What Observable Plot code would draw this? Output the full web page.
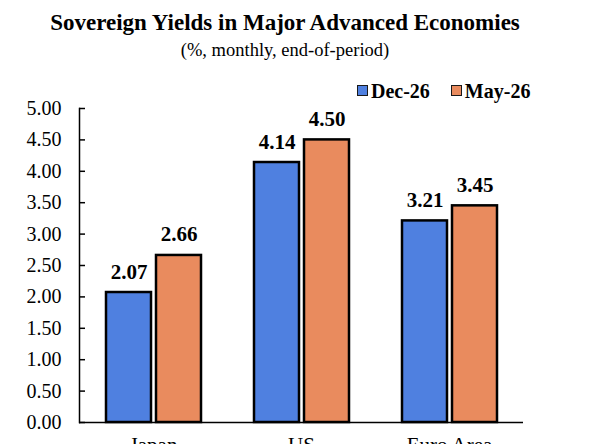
<!DOCTYPE html>
<html>
<head>
<meta charset="utf-8">
<script src="https://cdn.jsdelivr.net/npm/d3@7"></script>
<script src="https://cdn.jsdelivr.net/npm/@observablehq/plot@0.6"></script>
<style>
  html, body { margin: 0; padding: 0; background: #fff; overflow: hidden; }
  body { width: 590px; height: 444px; font-family: "Liberation Serif", "Times New Roman", serif; color: #000; }
  #header { position: relative; width: 590px; height: 80px; }
  .line { position: absolute; left: 0; width: 570px; text-align: center; line-height: 1; white-space: nowrap; }
  #title { top: 11px; font-size: 23px; font-weight: bold; }
  #subtitle { top: 41px; font-size: 18.5px; }
  #legend { position: absolute; left: 357px; top: 79px; font-size: 20px; font-weight: bold; line-height: 1; white-space: nowrap; z-index: 1; }
  .item { display: inline-flex; align-items: center; margin-right: 21px; }
  .swatch { display: inline-block; width: 9px; height: 9px; border: 1.5px solid #1a1a1a; margin-right: 3px; }
  #chart svg { display: block; }
</style>
</head>
<body>
<div id="header">
  <div id="title" class="line">Sovereign Yields in Major Advanced Economies</div>
  <div id="subtitle" class="line">(%, monthly, end-of-period)</div>
  <div id="legend"></div>
</div>
<div id="chart"></div>
<script>
// Sovereign 10-year yields, end of month (%)
const countries = ["Japan", "US", "Euro Area"];
const periods = ["Dec-26", "May-26"];
const dec26 = [2.07, 4.14, 3.21];
const may26 = [2.66, 4.50, 3.45];
const yTicks = [0, 0.5, 1, 1.5, 2, 2.5, 3, 3.5, 4, 4.5, 5];
const colors = ["#4f80e0", "#e98b5e"];

const rows = countries.flatMap((c, i) => [
  {country: c, period: periods[0], value: dec26[i]},
  {country: c, period: periods[1], value: may26[i]}
]);

// Legend
const legend = document.getElementById("legend");
periods.forEach((p, i) => {
  const item = document.createElement("span");
  item.className = "item";
  const sw = document.createElement("span");
  sw.className = "swatch";
  sw.style.background = colors[i];
  item.appendChild(sw);
  item.appendChild(document.createTextNode(p));
  legend.appendChild(item);
});

const chart = Plot.plot({
  width: 590,
  height: 390,
  marginLeft: 78,
  marginRight: 66,
  marginTop: 28,
  marginBottom: 48,
  style: {fontFamily: "Liberation Serif", color: "#000", background: "transparent"},
  fx: {domain: countries, padding: 0, label: null},
  x: {domain: periods, paddingInner: 0.1, paddingOuter: 0.52, axis: null},
  y: {domain: [0, 5], label: null},
  color: {domain: periods, range: colors},
  marks: [
    Plot.barY(rows, {fx: "country", x: "period", y: "value", fill: "period", stroke: "#000", strokeWidth: 2.5}),
    Plot.text(rows, {
      fx: "country", x: "period", y: "value",
      text: d => d.value.toFixed(2),
      dy: -14, lineAnchor: "bottom",
      fontSize: 21, fontWeight: "bold", fill: "#000"
    }),
    Plot.ruleY([0], {stroke: "#000", strokeWidth: 1.5}),
    Plot.frame({anchor: "left", facetAnchor: "left", stroke: "#000", strokeWidth: 1.5}),
    Plot.axisY({
      ticks: yTicks, tickFormat: d3.format(".2f"),
      tickSize: -6, tickPadding: 24, strokeWidth: 1.5,
      fontSize: 20, label: null
    }),
    Plot.axisFx({anchor: "bottom", tickSize: 0, tickPadding: 15, fontSize: 21, label: null})
  ]
});
document.getElementById("chart").appendChild(chart);
</script>
</body>
</html>
